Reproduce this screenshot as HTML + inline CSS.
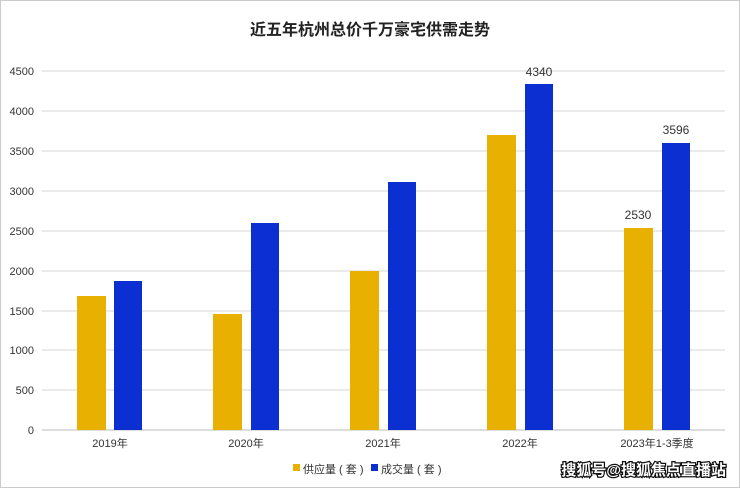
<!DOCTYPE html>
<html><head><meta charset="utf-8"><style>
body{margin:0;background:#fff}
svg{display:block}
text{font-family:"Liberation Sans","Noto Sans CJK SC",sans-serif}
</style></head><body>
<svg width="740" height="488" viewBox="0 0 740 488">
<rect x="0.5" y="0.5" width="739" height="487" fill="#fff" stroke="#ccc"/>
<text x="370" y="35" text-anchor="middle" font-size="16" font-weight="bold" fill="#222" font-family="Noto Sans CJK SC,sans-serif">近五年杭州总价千万豪宅供需走势</text>
<g stroke="#d4d4d4" stroke-width="1">
<line x1="42" x2="725" y1="71" y2="71"/><line x1="42" x2="725" y1="111" y2="111"/>
<line x1="42" x2="725" y1="151" y2="151"/><line x1="42" x2="725" y1="191" y2="191"/>
<line x1="42" x2="725" y1="231" y2="231"/><line x1="42" x2="725" y1="271" y2="271"/>
<line x1="42" x2="725" y1="311" y2="311"/><line x1="42" x2="725" y1="350" y2="350"/>
<line x1="42" x2="725" y1="390" y2="390"/>
</g>
<line x1="42" x2="725" y1="430" y2="430" stroke="#bbb"/>
<g font-size="11" fill="#333" text-anchor="end">
<text x="34" y="75">4500</text><text x="34" y="115">4000</text><text x="34" y="155">3500</text>
<text x="34" y="195">3000</text><text x="34" y="235">2500</text><text x="34" y="275">2000</text>
<text x="34" y="315">1500</text><text x="34" y="354">1000</text><text x="34" y="394">500</text>
<text x="34" y="434">0</text>
</g>
<g fill="#e8b000">
<rect x="77" y="296" width="29" height="134"/>
<rect x="213" y="314" width="29" height="116"/>
<rect x="350" y="271" width="29" height="159"/>
<rect x="487" y="135" width="29" height="295"/>
<rect x="624" y="228" width="29" height="202"/>
</g>
<g fill="#0b2fd0">
<rect x="114" y="281" width="28" height="149"/>
<rect x="251" y="223" width="28" height="207"/>
<rect x="388" y="182" width="28" height="248"/>
<rect x="525" y="84" width="28" height="346"/>
<rect x="662" y="143" width="28" height="287"/>
</g>
<g font-size="12" fill="#333" text-anchor="middle">
<text x="539" y="76">4340</text>
<text x="676" y="134">3596</text>
<text x="638" y="219">2530</text>
</g>
<g font-size="11" fill="#333" text-anchor="middle">
<text x="110" y="447">2019年</text><text x="246" y="447">2020年</text>
<text x="383" y="447">2021年</text><text x="520" y="447">2022年</text>
<text x="657" y="447">2023年1-3季度</text>
</g>
<rect x="293" y="464" width="7" height="7" fill="#e8b000"/>
<text x="303" y="473" font-size="11" fill="#333">供应量 ( 套 )</text>
<rect x="371" y="464" width="7" height="7" fill="#0b2fd0"/>
<text x="381" y="473" font-size="11" fill="#333">成交量 ( 套 )</text>
<text x="726" y="475" font-size="15" font-weight="bold" fill="#fff" stroke="#111" stroke-width="2.5" paint-order="stroke" text-anchor="end">搜狐号@搜狐焦点直播站</text>
</svg>
</body></html>
